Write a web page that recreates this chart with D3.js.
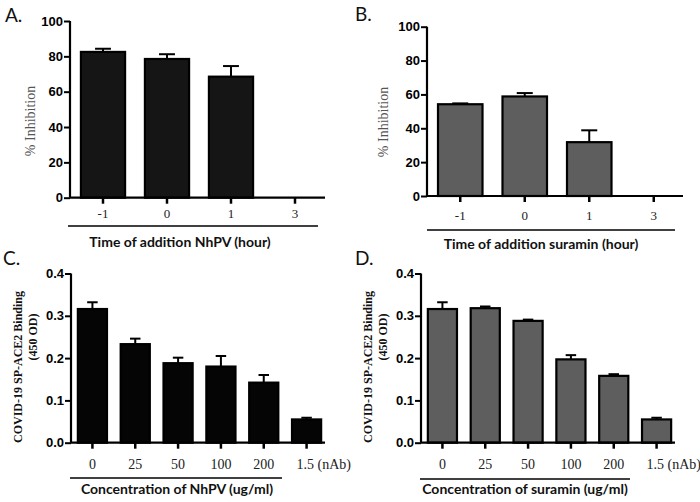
<!DOCTYPE html>
<html>
<head>
<meta charset="utf-8">
<script src="https://cdn.jsdelivr.net/npm/d3@7"></script>
<style>
  html, body { margin: 0; padding: 0; background: #fff; }
  svg { display: block; }
</style>
</head>
<body>
<svg id="chart" width="700" height="502"></svg>
<script>
// ---------- DATA ----------
const timeCategories = ["-1", "0", "1", "3"];
const nhpvInhibition = [82.5, 78.5, 68.5, 0];
const nhpvInhibitionErr = [1.8, 2.7, 6.0, 0];
const suraminInhibition = [54.2, 58.8, 31.8, 0];
const suraminInhibitionErr = [0.5, 2.0, 7.0, 0];

const concCategories = ["0", "25", "50", "100", "200", "1.5 (nAb)"];
const nhpvBinding = [0.316, 0.233, 0.188, 0.180, 0.142, 0.055];
const nhpvBindingErr = [0.016, 0.013, 0.013, 0.025, 0.018, 0.004];
const suraminBinding = [0.316, 0.318, 0.288, 0.197, 0.158, 0.055];
const suraminBindingErr = [0.016, 0.004, 0.003, 0.010, 0.004, 0.004];

const inhibitionTicks = [0, 20, 40, 60, 80, 100];
const bindingTicks = [0.0, 0.1, 0.2, 0.3, 0.4];

const panelLabels = ["A.", "B.", "C.", "D."];
const xTitles = ["Time of addition NhPV (hour)", "Time of addition suramin (hour)",
                 "Concentration of NhPV (ug/ml)", "Concentration of suramin (ug/ml)"];
const inhibitionTitle = ["% Inhibition"];
const bindingTitle = ["COVID-19 SP-ACE2 Binding", "(450 OD)"];

// ---------- LAYOUT ----------
const panels = [
  { label: panelLabels[0], labelX: 5, labelY: 22, cats: timeCategories, vals: nhpvInhibition, errs: nhpvInhibitionErr,
    ticks: inhibitionTicks, domain: [0, 100], fmt: d3.format("d"), fill: "#151515",
    axisX: 70, axisEnd: 325, band: [71, 327], yRange: [197.7, 21], pad: 0.31,
    tickLabelPad: 5, tickFont: 13, underline: [68, 318, 226], title: xTitles[0], titleX: 180, titleY: 247,
    yTitle: inhibitionTitle, yTitleX: [30], yTitleY: [121] },
  { label: panelLabels[1], labelX: 355, labelY: 21, cats: timeCategories, vals: suraminInhibition, errs: suraminInhibitionErr,
    ticks: inhibitionTicks, domain: [0, 100], fmt: d3.format("d"), fill: "#5e5e5e",
    axisX: 427, axisEnd: 683, band: [428, 686], yRange: [196, 26.7], pad: 0.31,
    tickLabelPad: 9, tickFont: 13, underline: [427, 675, 230], title: xTitles[1], titleX: 541, titleY: 249,
    yTitle: inhibitionTitle, yTitleX: [383], yTitleY: [122] },
  { label: panelLabels[2], labelX: 3, labelY: 265, cats: concCategories, vals: nhpvBinding, errs: nhpvBindingErr,
    ticks: bindingTicks, domain: [0, 0.4], fmt: d3.format(".1f"), fill: "#050505",
    axisX: 71, axisEnd: 325, band: [71, 328], yRange: [442.7, 273.5], pad: 0.32,
    tickLabelPad: 10, tickFont: 14, underline: [70, 282, 478], title: xTitles[2], titleX: 177, titleY: 494,
    yTitle: bindingTitle, yTitleX: [18, 33], yTitleY: [367, 337] },
  { label: panelLabels[3], labelX: 355, labelY: 265, cats: concCategories, vals: suraminBinding, errs: suraminBindingErr,
    ticks: bindingTicks, domain: [0, 0.4], fmt: d3.format(".1f"), fill: "#5e5e5e",
    axisX: 421, axisEnd: 675, band: [421, 678], yRange: [442.7, 273.5], pad: 0.32,
    tickLabelPad: 10, tickFont: 14, underline: [420, 630, 479], title: xTitles[3], titleX: 525, titleY: 494,
    yTitle: bindingTitle, yTitleX: [368, 383], yTitleY: [367, 337] }
];

const svg = d3.select("#chart");

panels.forEach(p => {
  const g = svg.append("g");
  const x = d3.scaleBand().domain(p.cats).range(p.band).paddingInner(p.pad).paddingOuter(p.pad / 2);
  const y = d3.scaleLinear().domain(p.domain).range(p.yRange);

  // bars
  g.selectAll("rect.bar").data(p.vals).enter().append("rect")
    .attr("class", "bar")
    .attr("x", (d, i) => x(p.cats[i]))
    .attr("width", x.bandwidth())
    .attr("y", d => y(d))
    .attr("height", d => y(0) - y(d))
    .attr("fill", p.fill)
    .attr("stroke", d => d > 0 ? "#000" : "none")
    .attr("stroke-width", 2.2);

  // error bars (upper only)
  const capW = x.bandwidth() * 0.36;
  p.vals.forEach((v, i) => {
    if (v <= 0) return;
    const cx = x(p.cats[i]) + x.bandwidth() / 2;
    g.append("line").attr("x1", cx).attr("x2", cx)
      .attr("y1", y(v)).attr("y2", y(v + p.errs[i]))
      .attr("stroke", "#000").attr("stroke-width", 2);
    g.append("line").attr("x1", cx - capW / 2).attr("x2", cx + capW / 2)
      .attr("y1", y(v + p.errs[i])).attr("y2", y(v + p.errs[i]))
      .attr("stroke", "#000").attr("stroke-width", 2);
  });

  // y axis
  const yAxis = g.append("g").attr("transform", `translate(${p.axisX},0)`)
    .call(d3.axisLeft(y).tickValues(p.ticks).tickFormat(p.fmt).tickSize(6).tickPadding(1));
  yAxis.select(".domain").attr("d", `M0,${p.yRange[0]}V${p.yRange[1]}`).attr("stroke", "#000").attr("stroke-width", 2.2);
  yAxis.selectAll(".tick line").attr("stroke", "#000").attr("stroke-width", 2);
  yAxis.selectAll(".tick text").attr("font-family", "'Liberation Sans', Arial, sans-serif")
    .attr("font-weight", "bold").attr("font-size", 13).attr("fill", "#000");

  // x axis
  const xAxis = g.append("g").attr("transform", `translate(0,${p.yRange[0]})`)
    .call(d3.axisBottom(x).tickSize(6).tickPadding(p.tickLabelPad));
  xAxis.select(".domain").attr("d", `M${p.axisX},0H${p.axisEnd}`).attr("stroke", "#000").attr("stroke-width", 2.2);
  xAxis.selectAll(".tick line").attr("stroke", "#000").attr("stroke-width", 2.5);
  xAxis.selectAll(".tick text").attr("font-family", "'Liberation Serif', 'Times New Roman', serif")
    .attr("font-size", p.tickFont).attr("fill", "#222");
  // labels with a unit suffix: centre the number on the tick, let the suffix trail
  xAxis.selectAll(".tick text").filter(d => d.indexOf(" ") >= 0)
    .attr("text-anchor", "start").attr("x", -10);

  // underline and x title
  g.append("line").attr("x1", p.underline[0]).attr("x2", p.underline[1])
    .attr("y1", p.underline[2]).attr("y2", p.underline[2])
    .attr("stroke", "#000").attr("stroke-width", 1.6);
  g.append("text").attr("x", p.titleX).attr("y", p.titleY).attr("text-anchor", "middle")
    .attr("font-family", "Lato, 'Open Sans', sans-serif").attr("font-weight", "bold")
    .attr("font-size", 14).attr("fill", "#111").text(p.title);

  // y title
  p.yTitle.forEach((t, k) => {
    g.append("text")
      .attr("transform", `translate(${p.yTitleX[k]},${p.yTitleY[k]}) rotate(-90)`)
      .attr("text-anchor", "middle").attr("dy", "0.35em")
      .attr("font-family", "'Liberation Serif', 'Times New Roman', serif")
      .attr("font-weight", p.yTitle.length > 1 ? "bold" : "normal")
      .attr("font-size", p.yTitle.length > 1 ? 12 : 14)
      .attr("fill", p.yTitle.length > 1 ? "#111" : "#555")
      .text(t);
  });

  // panel label
  g.append("text").attr("x", p.labelX).attr("y", p.labelY)
    .attr("font-family", "Lato, 'Open Sans', sans-serif").attr("font-size", 19).attr("fill", "#111")
    .text(p.label);
});
</script>
</body>
</html>
